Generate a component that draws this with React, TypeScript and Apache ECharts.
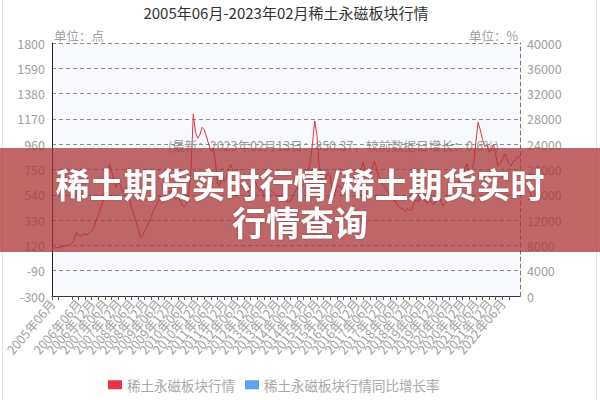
import React, { useEffect, useRef } from 'react';
import * as echarts from 'echarts';

const TITLE = '2005年06月-2023年02月稀土永磁板块行情';
const SERIES_PRICE = '稀土永磁板块行情';
const SERIES_YOY = '稀土永磁板块行情同比增长率';
const LEFT_NAME = '单位：点';
const RIGHT_NAME = '单位：%';
const NOTE = '(最新：2023年02月13日：850.37，较前数据日增长：0.6%)';
const BANNER_LINE1 = '稀土期货实时行情/稀土期货实时';
const BANNER_LINE2 = '行情查询';

const leftTicks = [-300, -90, 120, 330, 540, 750, 960, 1170, 1380, 1590, 1800];
const rightTicks = [0, 4000, 8000, 12000, 16000, 20000, 24000, 28000, 32000, 36000, 40000];

const startYear = 2005;
const startMonth = 6;
const endYear = 2023;
const endMonth = 2;

// monthly index values, 2005-06 .. 2023-02
const priceValues: number[] = [
  // 2005 Jun-Dec
  95, 98, 102, 100, 106, 112, 118,
  // 2006
  120, 124, 135, 165, 228, 205, 198, 210, 215, 208, 222, 240,
  // 2007
  270, 330, 370, 430, 478, 560, 700, 793, 740, 660, 600, 650,
  // 2008
  620, 560, 590, 610, 520, 430, 380, 320, 260, 190, 200, 240,
  // 2009
  270, 320, 360, 410, 440, 480, 530, 470, 500, 540, 570, 560,
  // 2010
  520, 500, 520, 495, 450, 440, 470, 560, 760, 1208, 1060, 1010,
  // 2011
  1040, 1100, 1080, 1020, 960, 900, 930, 820, 640, 610, 700, 650,
  // 2012
  680, 760, 790, 740, 720, 660, 620, 600, 610, 580, 560, 620,
  // 2013
  640, 660, 600, 570, 590, 520, 560, 600, 580, 560, 545, 520,
  // 2014
  530, 540, 500, 490, 477, 485, 520, 560, 600, 580, 600, 628,
  // 2015
  680, 720, 820, 960, 1153, 1040, 780, 700, 610, 680, 720, 700,
  // 2016
  560, 545, 600, 620, 590, 610, 630, 650, 640, 668, 690, 660,
  // 2017
  700, 760, 810, 730, 690, 700, 760, 820, 760, 690, 643, 620,
  // 2018
  600, 560, 540, 520, 500, 470, 445, 430, 420, 400, 430, 410,
  // 2019
  420, 470, 500, 480, 560, 520, 490, 470, 500, 470, 460, 500,
  // 2020
  520, 500, 450, 470, 480, 520, 600, 640, 610, 620, 680, 720,
  // 2021
  760, 800, 720, 740, 800, 976, 1142, 1080, 1000, 940, 960, 893,
  // 2022
  920, 960, 870, 780, 800, 830, 880, 840, 800, 780, 820, 830,
  // 2023 Jan-Feb
  860, 850.37,
];

const yoyValues: number[] = [];

function buildMonths(): string[] {
  const out: string[] = [];
  let y = startYear;
  let m = startMonth;
  while (y < endYear || (y === endYear && m <= endMonth)) {
    out.push(`${y}年${m < 10 ? '0' + m : m}月`);
    m += 1;
    if (m > 12) { m = 1; y += 1; }
  }
  return out;
}
const months = buildMonths();

const FONT = '"Noto Sans CJK SC", "Noto Sans", sans-serif';

export default function App() {
  const ref = useRef<HTMLDivElement>(null);
  useEffect(() => {
    if (!ref.current) return;
    const chart = echarts.init(ref.current, undefined, { renderer: 'svg' });
    chart.setOption({
      animation: false,
      backgroundColor: '#ffffff',
      textStyle: { fontFamily: FONT },
      grid: {
        left: 52, right: 80, top: 43, bottom: 104,
        show: true, backgroundColor: '#f8f9fd', borderWidth: 0,
      },
      legend: {
        left: 103, top: 373,
        icon: 'rect', itemWidth: 14, itemHeight: 9, itemGap: 10,
        textStyle: { color: '#a8a8a8', fontSize: 13.5, fontFamily: FONT },
        data: [SERIES_PRICE, SERIES_YOY],
      },
      xAxis: {
        type: 'category',
        data: months,
        boundaryGap: false,
        axisLine: { onZero: false, lineStyle: { color: '#333', width: 1 } },
        axisTick: { show: true, interval: 2, length: 4, lineStyle: { color: '#555' } },
        axisLabel: {
          interval: 5, rotate: 50, color: '#a0a0a0', fontSize: 12.5, margin: 5,
          fontFamily: FONT, showMinLabel: true, hideOverlap: false,
        },
        splitLine: { show: false },
      },
      yAxis: [
        {
          type: 'value', min: -300, max: 1800, position: 'left',
          name: LEFT_NAME, nameLocation: 'end', nameGap: 1,
          nameTextStyle: { color: '#a0a0a0', fontSize: 12.5, align: 'left', padding: [0, 0, 0, 2] },
          axisLine: { show: true, onZero: false, lineStyle: { color: '#222', width: 1 } },
          axisTick: { show: false },
          axisLabel: {
            customValues: leftTicks, color: '#a0a0a0', fontSize: 12.5, margin: 7,
            formatter: (v: number) => String(v),
          },
          splitLine: { show: false },
        },
        {
          type: 'value', min: rightTicks[0], max: rightTicks[rightTicks.length - 1], interval: 4000, position: 'right',
          name: RIGHT_NAME, nameLocation: 'end', nameGap: 1,
          nameTextStyle: { color: '#a0a0a0', fontSize: 12.5, align: 'right', padding: [0, 2, 0, 0] },
          axisLine: { show: true, onZero: false, lineStyle: { color: '#777', width: 1, type: [4, 3] } },
          axisTick: { show: false },
          axisLabel: {
            color: '#a0a0a0', fontSize: 12.5, margin: 7,
            formatter: (v: number) => String(v),
          },
          splitLine: { show: true, lineStyle: { color: '#8a8a8a', width: 1, type: [4, 3] } },
        },
      ],
      series: [
        {
          name: SERIES_PRICE, type: 'line', data: priceValues, yAxisIndex: 0,
          symbol: 'none', smooth: false,
          itemStyle: { color: '#e8334a' },
          lineStyle: { color: '#e0303f', width: 1 },
          z: 3,
        },
        {
          name: SERIES_YOY, type: 'line', data: yoyValues, yAxisIndex: 1,
          symbol: 'none',
          itemStyle: { color: '#5aa5ee' },
          lineStyle: { color: '#5aa5ee', width: 1 },
        },
      ],
      graphic: [
        {
          type: 'text', x: 286, y: 12, z: 10,
          style: {
            text: TITLE, fill: '#333', font: `15px ${FONT}`,
            textAlign: 'center', textVerticalAlign: 'middle',
          },
        },
        {
          type: 'text', x: 168, y: 145, z: 10,
          style: {
            text: NOTE, fill: '#9a9a9a', font: `12.5px ${FONT}`,
            textAlign: 'left', textVerticalAlign: 'middle',
          },
        },
        {
          type: 'rect', z: 50,
          shape: { x: 2.5, y: -2, width: 594, height: 404 },
          style: { fill: 'none', stroke: '#e4e4e4', lineWidth: 1 },
        },
        {
          type: 'rect', z: 100,
          shape: { x: 0, y: 148, width: 600, height: 104 },
          style: { fill: 'rgba(171,54,54,0.75)' },
        },
        {
          type: 'text', x: 300, y: 183, z: 101,
          style: {
            text: BANNER_LINE1, fill: '#ffffff', font: `bold 34px ${FONT}`,
            textAlign: 'center', textVerticalAlign: 'middle',
            textShadowColor: 'rgba(0,0,0,0.25)', textShadowBlur: 2,
          },
        },
        {
          type: 'text', x: 300, y: 221, z: 101,
          style: {
            text: BANNER_LINE2, fill: '#ffffff', font: `bold 34px ${FONT}`,
            textAlign: 'center', textVerticalAlign: 'middle',
            textShadowColor: 'rgba(0,0,0,0.25)', textShadowBlur: 2,
          },
        },
      ],
    });
    return () => chart.dispose();
  }, []);
  return <div ref={ref} style={{ width: 600, height: 400, position: 'absolute', left: 0, top: 0 }} />;
}
